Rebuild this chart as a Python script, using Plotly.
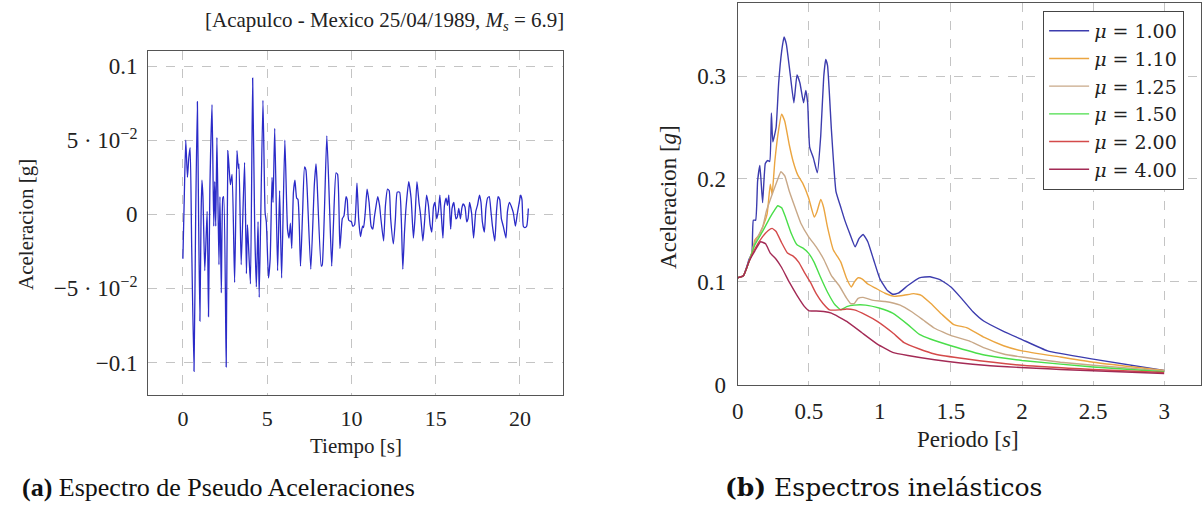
import plotly.graph_objects as go

# ---------------- Data: (a) time history ----------------
t_time = [0.00, 0.08, 0.17, 0.27, 0.35, 0.43, 0.52, 0.66, 0.76, 0.86, 0.93, 1.01, 1.08, 1.13, 1.19,
          1.30, 1.44, 1.52, 1.60, 1.73, 1.83, 1.89, 1.95, 2.02, 2.14, 2.20, 2.28, 2.37, 2.42, 2.57,
          2.67, 2.75, 2.82, 2.92, 3.07, 3.21, 3.29, 3.33, 3.46, 3.66, 3.77, 3.83, 3.89, 4.01, 4.14,
          4.26, 4.36, 4.46, 4.53, 4.75, 4.88, 4.95, 5.08, 5.18, 5.29, 5.35, 5.45, 5.62, 5.74, 5.86,
          6.05, 6.21, 6.30, 6.38, 6.46, 6.56, 6.65, 6.75, 6.83, 6.98, 7.10, 7.22, 7.30, 7.37, 7.59,
          7.80, 7.90, 7.96, 8.21, 8.27, 8.54, 8.70, 8.83, 8.93, 9.09, 9.18, 9.32, 9.46, 9.56, 9.68,
          9.75, 9.84, 10.00, 10.08, 10.19, 10.33, 10.43, 10.54, 10.66, 10.72, 10.82, 10.93, 11.05,
          11.17, 11.27, 11.36, 11.44, 11.56, 11.67, 11.75, 11.91, 12.02, 12.14, 12.24, 12.33, 12.49,
          12.61, 12.72, 12.86, 12.96, 13.05, 13.15, 13.25, 13.40, 13.54, 13.68, 13.77, 13.89, 14.01,
          14.11, 14.24, 14.34, 14.46, 14.57, 14.67, 14.77, 14.87, 14.96, 15.06, 15.16, 15.25, 15.35,
          15.43, 15.52, 15.62, 15.70, 15.78, 15.89, 15.97, 16.08, 16.20, 16.28, 16.37, 16.47, 16.55,
          16.63, 16.74, 16.84, 16.92, 17.01, 17.13, 17.25, 17.38, 17.48, 17.60, 17.69, 17.77, 17.89,
          17.98, 18.08, 18.18, 18.28, 18.37, 18.51, 18.61, 18.70, 18.80, 18.90, 19.01, 19.17, 19.26,
          19.38, 19.50, 19.61, 19.73, 19.84, 19.96, 20.04, 20.12, 20.20, 20.29, 20.40, 20.50]
acc = [-0.030, 0.010, 0.050, 0.025, 0.038, 0.045, -0.020, -0.106, 0.000, 0.076, 0.000, -0.072, 0.000, 0.023, 0.012,
       -0.038, 0.002, -0.069, 0.016, 0.074, -0.008, 0.022, -0.008, 0.052, -0.034, 0.012, -0.053, 0.011, 0.012, -0.103,
       0.043, 0.030, 0.020, 0.027, -0.046, 0.043, 0.031, 0.034, -0.034, 0.035, -0.040, -0.007, -0.020, -0.047, 0.092,
       -0.008, -0.049, -0.005, -0.056, 0.077, 0.001, -0.005, -0.043, -0.030, 0.025, 0.008, 0.058, -0.038, 0.016, -0.043,
       0.050, -0.010, -0.016, -0.006, -0.023, 0.015, 0.023, 0.011, 0.010, -0.035, 0.000, 0.032, 0.030, 0.018, -0.037,
       0.020, 0.034, 0.023, -0.035, -0.034, 0.053, 0.006, -0.035, -0.008, 0.028, 0.027, -0.023, -0.003, -0.001, 0.012,
       0.010, -0.004, -0.005, -0.008, -0.007, 0.021, -0.003, -0.015, -0.008, -0.009, 0.001, 0.017, 0.008,
       -0.008, -0.010, -0.002, 0.004, 0.012, 0.006, -0.003, -0.018, 0.006, 0.017, 0.016, -0.003, -0.020,
       -0.003, 0.015, 0.015, -0.003, -0.037, -0.012, 0.006, 0.022, 0.011, -0.016, -0.003, 0.022, 0.008,
       -0.001, -0.018, -0.005, 0.013, 0.006, -0.007, -0.012, 0.005, 0.008, -0.003, 0.002, 0.013, -0.003,
       -0.016, 0.006, 0.011, 0.006, 0.013, -0.010, 0.004, 0.008, -0.003, -0.002, 0.004, -0.003, 0.004,
       0.007, 0.005, -0.005, -0.003, 0.008, 0.001, -0.016, 0.002, 0.006, 0.013, 0.008, -0.005, -0.012,
       0.004, 0.011, 0.012, 0.002, -0.008, -0.018, 0.002, 0.012, 0.010, -0.003, -0.008, -0.016, 0.002,
       0.008, 0.005, 0.001, -0.008, 0.000, 0.008, 0.013, 0.010, -0.008, -0.009, -0.008, 0.004]

# ---------------- Data: (b) inelastic spectra ----------------
labels = ["1.00", "1.10", "1.25", "1.50", "2.00", "4.00"]
colors = ["#3c3cae", "#eba540", "#c8a888", "#4ade4a", "#d44a4a", "#a32a55"]

T_100 = [0, 0.04, 0.08, 0.10, 0.11, 0.126, 0.14, 0.156, 0.175, 0.194, 0.21, 0.225, 0.237, 0.247, 0.27, 0.288,
         0.309, 0.326, 0.342, 0.369, 0.395, 0.417, 0.438, 0.463, 0.479, 0.492, 0.506, 0.533, 0.56, 0.584, 0.605,
         0.619, 0.632, 0.659, 0.691, 0.726, 0.753, 0.788, 0.826, 0.853, 0.882, 0.915, 0.955, 1.0, 1.05, 1.09,
         1.13, 1.197, 1.278, 1.353, 1.426, 1.5, 1.574, 1.655, 1.73, 1.87, 2.0, 2.18, 2.5, 3.0]
S_100 = [0.104, 0.106, 0.122, 0.128, 0.160, 0.160, 0.198, 0.213, 0.177, 0.215, 0.218, 0.217, 0.264, 0.236, 0.250, 0.293,
         0.324, 0.338, 0.331, 0.302, 0.274, 0.301, 0.293, 0.274, 0.286, 0.274, 0.231, 0.220, 0.206, 0.242, 0.299,
         0.316, 0.310, 0.248, 0.188, 0.172, 0.160, 0.147, 0.134, 0.142, 0.146, 0.139, 0.122, 0.103, 0.092, 0.088,
         0.089, 0.0965, 0.104, 0.105, 0.102, 0.095, 0.084, 0.071, 0.062, 0.052, 0.044, 0.033, 0.025, 0.014]

T_110 = [0, 0.04, 0.08, 0.10, 0.121, 0.148, 0.175, 0.207, 0.229, 0.242, 0.261, 0.288, 0.309, 0.331, 0.363, 0.39,
         0.422, 0.457, 0.498, 0.538, 0.557, 0.584, 0.605, 0.632, 0.673, 0.70, 0.726, 0.767, 0.799, 0.821, 0.847,
         0.874, 0.915, 0.969, 1.036, 1.103, 1.17, 1.238, 1.291, 1.359, 1.44, 1.52, 1.614, 1.735, 1.87, 2.0,
         2.27, 2.5, 3.0]
S_110 = [0.104, 0.106, 0.120, 0.128, 0.141, 0.145, 0.153, 0.166, 0.195, 0.185, 0.217, 0.248, 0.263, 0.256, 0.233, 0.217,
         0.204, 0.196, 0.182, 0.163, 0.168, 0.180, 0.172, 0.153, 0.131, 0.125, 0.119, 0.103, 0.095, 0.100, 0.104,
         0.103, 0.098, 0.094, 0.089, 0.086, 0.087, 0.0886, 0.087, 0.079, 0.068, 0.0585, 0.0554, 0.046, 0.038, 0.033,
         0.027, 0.022, 0.014]

T_125 = [0, 0.04, 0.08, 0.12, 0.175, 0.202, 0.242, 0.277, 0.304, 0.331, 0.363, 0.404, 0.444, 0.498, 0.552, 0.605,
         0.659, 0.713, 0.767, 0.794, 0.82, 0.847, 0.882, 0.955, 1.036, 1.143, 1.224, 1.305, 1.385, 1.507, 1.628,
         1.735, 1.87, 2.0, 2.27, 2.5, 3.0]
S_125 = [0.104, 0.106, 0.120, 0.138, 0.153, 0.169, 0.185, 0.198, 0.207, 0.203, 0.188, 0.172, 0.157, 0.144, 0.134, 0.122,
         0.106, 0.0965, 0.084, 0.079, 0.079, 0.084, 0.085, 0.082, 0.081, 0.0775, 0.071, 0.063, 0.055, 0.0475, 0.0427,
         0.036, 0.030, 0.027, 0.022, 0.019, 0.0136]

T_150 = [0, 0.04, 0.08, 0.12, 0.175, 0.229, 0.256, 0.282, 0.309, 0.336, 0.377, 0.417, 0.457, 0.498, 0.538, 0.578,
         0.632, 0.686, 0.726, 0.767, 0.82, 0.90, 1.0, 1.09, 1.197, 1.278, 1.359, 1.5, 1.735, 2.0, 2.5, 3.0]
S_150 = [0.104, 0.106, 0.120, 0.136, 0.149, 0.163, 0.169, 0.174, 0.172, 0.163, 0.147, 0.136, 0.133, 0.128, 0.119, 0.106,
         0.090, 0.0775, 0.073, 0.076, 0.0775, 0.0775, 0.0744, 0.0696, 0.0585, 0.049, 0.0443, 0.038, 0.029, 0.0237,
         0.0174, 0.0127]

T_200 = [0, 0.04, 0.08, 0.12, 0.175, 0.215, 0.242, 0.27, 0.309, 0.35, 0.39, 0.43, 0.47, 0.511, 0.552, 0.60,
         0.646, 0.713, 0.767, 0.82, 0.90, 0.982, 1.09, 1.17, 1.278, 1.385, 1.6, 2.0, 2.5, 3.0]
S_200 = [0.104, 0.106, 0.120, 0.132, 0.144, 0.150, 0.152, 0.149, 0.138, 0.128, 0.125, 0.119, 0.109, 0.0997, 0.0886, 0.079,
         0.0728, 0.0728, 0.0737, 0.0728, 0.068, 0.0617, 0.0506, 0.041, 0.0348, 0.030, 0.0253, 0.019, 0.0149, 0.012]

T_400 = [0, 0.04, 0.08, 0.12, 0.161, 0.196, 0.229, 0.27, 0.309, 0.363, 0.417, 0.47, 0.503, 0.552, 0.605, 0.659,
         0.767, 0.874, 0.982, 1.09, 1.197, 1.385, 1.735, 2.27, 3.0]
S_400 = [0.104, 0.106, 0.120, 0.130, 0.139, 0.137, 0.128, 0.122, 0.114, 0.0997, 0.087, 0.076, 0.0718, 0.0718, 0.0712,
         0.0696, 0.0617, 0.0506, 0.0396, 0.0316, 0.0285, 0.0244, 0.019, 0.0149, 0.011]

periods = [T_100, T_110, T_125, T_150, T_200, T_400]
spectra = [S_100, S_110, S_125, S_150, S_200, S_400]

# ---------------- Figure ----------------
W, H = 1202, 506
FONT = "Liberation Serif"

def px_x(x):
    return x / W

def px_y(y):
    return 1 - y / H

fig = go.Figure()

fig.add_trace(go.Scatter(x=t_time, y=acc, mode="lines", showlegend=False,
                         line=dict(color="#2b2bc8", width=1.3, shape="spline", smoothing=0.5),
                         xaxis="x", yaxis="y"))

for lab, col, T, S in zip(labels, colors, periods, spectra):
    fig.add_trace(go.Scatter(x=T, y=S, mode="lines", name=f"<i>μ</i> = {lab}",
                             line=dict(color=col, width=1.4, shape="spline", smoothing=0.4),
                             xaxis="x2", yaxis="y2"))

grid = dict(showgrid=True, gridcolor="#c4c4c4", griddash="dash", gridwidth=1,
            zeroline=False, showline=True, linecolor="#555555", linewidth=1.2, mirror=True,
            ticks="", color="#222222")

fig.update_layout(
    width=W, height=H,
    margin=dict(l=0, r=0, t=0, b=0),
    paper_bgcolor="white", plot_bgcolor="white",
    font=dict(family=FONT, color="#222222"),
    xaxis=dict(domain=[px_x(143), px_x(560)], range=[-2.06, 22.54],
               tickvals=[0, 5, 10, 15, 20], tickfont=dict(size=22), ticklabelstandoff=4,
               anchor="y", **grid),
    yaxis=dict(domain=[px_y(405), px_y(52)], range=[-0.1217, 0.1105],
               tickvals=[-0.1, -0.05, 0, 0.05, 0.1],
               ticktext=["−0.1", "−5 · 10<sup>−2</sup>", "0", "5 · 10<sup>−2</sup>", "0.1"],
               tickfont=dict(size=23), ticklabelstandoff=5, anchor="x", **grid),
    xaxis2=dict(domain=[px_x(736), 1.0], range=[0, 3.259],
                tickvals=[0, 0.5, 1, 1.5, 2, 2.5, 3], ticktext=["0", "0.5", "1", "1.5", "2", "2.5", "3"],
                tickfont=dict(size=23), ticklabelstandoff=5, anchor="y2", **grid),
    yaxis2=dict(domain=[px_y(395), px_y(3)], range=[0, 0.371],
                tickvals=[0, 0.1, 0.2, 0.3], ticktext=["0", "0.1", "0.2", "0.3"],
                tickfont=dict(size=23), ticklabelstandoff=6, anchor="x2", **grid),
    legend=dict(x=px_x(1043), y=px_y(11), xanchor="left", yanchor="top",
                bgcolor="white", bordercolor="#444444", borderwidth=1.2,
                font=dict(size=19, family="DejaVu Serif"), itemwidth=40, tracegroupgap=0),
    showlegend=True,
)

ann = [
    dict(text="[Acapulco - Mexico 25/04/1989, <i>M<sub>s</sub></i> = 6.9]", x=px_x(381), y=px_y(22),
         font=dict(size=21)),
    dict(text="Tiempo [s]", x=px_x(352), y=px_y(458), font=dict(size=21)),
    dict(text="Aceleracion [g]", x=px_x(20), y=px_y(230), textangle=-90, font=dict(size=21)),
    dict(text="Periodo [<i>s</i>]", x=px_x(968), y=px_y(451), font=dict(size=23)),
    dict(text="Aceleracion [<i>g</i>]", x=px_x(667), y=px_y(202), textangle=-90, font=dict(size=23)),
]
for a in ann:
    fig.add_annotation(xref="paper", yref="paper", showarrow=False, xanchor="center", yanchor="middle", **a)

fig.add_annotation(xref="paper", yref="paper", showarrow=False, xanchor="left", yanchor="middle",
                   x=px_x(14), y=px_y(500),
                   text="<b>(a)</b> Espectro de Pseudo Aceleraciones",
                   font=dict(size=26, family=FONT, color="#111111"))
fig.add_annotation(xref="paper", yref="paper", showarrow=False, xanchor="left", yanchor="middle",
                   x=px_x(721), y=px_y(500),
                   text="<b>(b)</b> Espectros inelásticos",
                   font=dict(size=25, family="DejaVu Serif", color="#111111"))

fig.write_html("out.html")
